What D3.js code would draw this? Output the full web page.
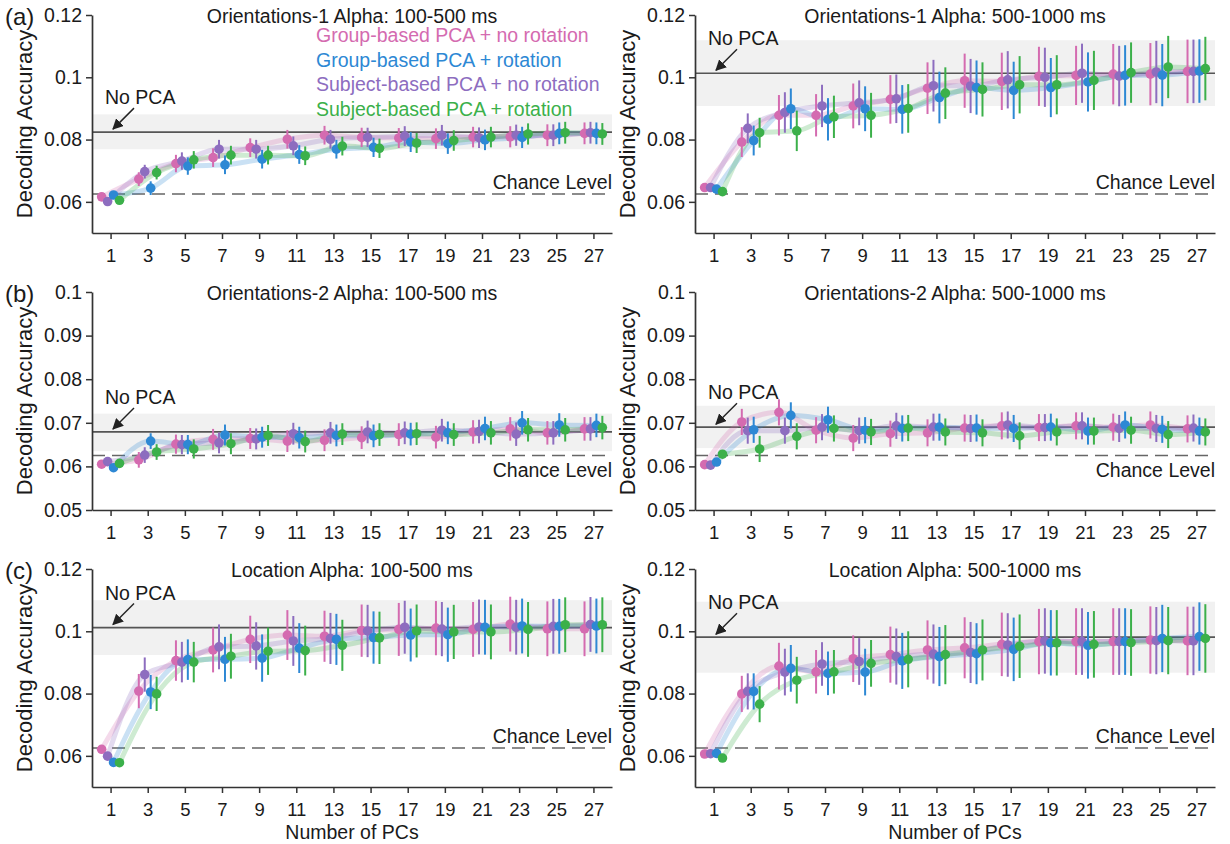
<!DOCTYPE html>
<html>
<head>
<meta charset="utf-8">
<script src="https://cdn.jsdelivr.net/npm/d3@7"></script>
<style>
  body { margin: 0; background: #fff; }
  svg { display: block; font-family: "Liberation Sans", Arial, sans-serif; }
</style>
</head>
<body>
<svg id="chart" width="1230" height="844"></svg>
<script>
// ---- data ----
const numPCs = [1, 3, 5, 7, 9, 11, 13, 15, 17, 19, 21, 23, 25, 27];

const seriesNames = [
  'Group-based PCA + no rotation',
  'Group-based PCA + rotation',
  'Subject-based PCA + no rotation',
  'Subject-based PCA + rotation',
];
const seriesColors = ['#d46bb0', '#2d88d4', '#8d6dbf', '#3bb04a'];

const panelTitles = [
  'Orientations-1 Alpha: 100-500 ms', 'Orientations-1 Alpha: 500-1000 ms',
  'Orientations-2 Alpha: 100-500 ms', 'Orientations-2 Alpha: 500-1000 ms',
  'Location Alpha: 100-500 ms', 'Location Alpha: 500-1000 ms',
];
const panelLetters = ['(a)', null, '(b)', null, '(c)', null];

const yTicksWide = [0.06, 0.08, 0.1, 0.12];
const yTicksNarrow = [0.05, 0.06, 0.07, 0.08, 0.09, 0.1];

const chanceLevel = 0.0625;
const noPcaMean = [0.0824, 0.1013, 0.0679, 0.0690, 0.1012, 0.0981];
const noPcaBandLo = [0.0769, 0.0908, 0.0635, 0.0642, 0.0924, 0.0867];
const noPcaBandHi = [0.0881, 0.1119, 0.0721, 0.0739, 0.1100, 0.1095];

// Orientations-1, 100-500 ms
const ori1EarlyGroupNoRot = [0.0616,0.0673,0.0723,0.0742,0.0774,0.0801,0.0814,0.0807,0.0805,0.0803,0.0808,0.0809,0.0814,0.0820];
const ori1EarlyGroupRot   = [0.0622,0.0644,0.0715,0.0719,0.0737,0.0752,0.0769,0.0775,0.0792,0.0787,0.0799,0.0807,0.0820,0.0820];
const ori1EarlySubjNoRot  = [0.0601,0.0697,0.0731,0.0769,0.0769,0.0780,0.0801,0.0807,0.0811,0.0814,0.0806,0.0814,0.0814,0.0822];
const ori1EarlySubjRot    = [0.0605,0.0694,0.0735,0.0750,0.0750,0.0748,0.0779,0.0772,0.0789,0.0797,0.0808,0.0818,0.0822,0.0818];
const ori1EarlyErr        = [0.0012,0.0022,0.0028,0.0030,0.0030,0.0030,0.0030,0.0031,0.0032,0.0033,0.0033,0.0034,0.0035,0.0035];

// Orientations-1, 500-1000 ms
const ori1LateGroupNoRot = [0.0646,0.0792,0.0878,0.0878,0.0908,0.0929,0.0965,0.0989,0.0987,0.1003,0.1006,0.1010,0.1010,0.1019];
const ori1LateGroupRot   = [0.0641,0.0797,0.0899,0.0865,0.0899,0.0897,0.0935,0.0967,0.0958,0.0967,0.0985,0.1006,0.1007,0.1020];
const ori1LateSubjNoRot  = [0.0646,0.0836,0.0887,0.0908,0.0918,0.0931,0.0973,0.0972,0.0992,0.1000,0.1013,0.1004,0.1017,0.1019];
const ori1LateSubjRot    = [0.0633,0.0822,0.0828,0.0873,0.0878,0.0900,0.0949,0.0961,0.0976,0.0976,0.0990,0.1015,0.1033,0.1028];
const ori1LateErr        = [0.0008,0.0048,0.0065,0.0068,0.0072,0.0078,0.0083,0.0087,0.0092,0.0095,0.0095,0.0097,0.0100,0.0102];

// Orientations-2, 100-500 ms
const ori2EarlyGroupNoRot = [0.0605,0.0615,0.0651,0.0662,0.0664,0.0658,0.0660,0.0666,0.0673,0.0667,0.0679,0.0686,0.0677,0.0686];
const ori2EarlyGroupRot   = [0.0597,0.0658,0.0650,0.0672,0.0667,0.0666,0.0671,0.0670,0.0674,0.0677,0.0687,0.0700,0.0695,0.0694];
const ori2EarlySubjNoRot  = [0.0611,0.0626,0.0650,0.0654,0.0663,0.0675,0.0677,0.0679,0.0677,0.0683,0.0680,0.0674,0.0677,0.0686];
const ori2EarlySubjRot    = [0.0607,0.0633,0.0640,0.0652,0.0671,0.0657,0.0674,0.0673,0.0675,0.0673,0.0677,0.0684,0.0684,0.0689];
const ori2EarlyErr        = [0.0009,0.0018,0.0022,0.0024,0.0024,0.0025,0.0025,0.0026,0.0026,0.0026,0.0027,0.0027,0.0027,0.0027];

// Orientations-2, 500-1000 ms
const ori2LateGroupNoRot = [0.0604,0.0702,0.0724,0.0683,0.0665,0.0675,0.0677,0.0688,0.0693,0.0689,0.0693,0.0690,0.0695,0.0686];
const ori2LateGroupRot   = [0.0610,0.0684,0.0717,0.0707,0.0683,0.0687,0.0690,0.0688,0.0687,0.0690,0.0681,0.0695,0.0685,0.0681];
const ori2LateSubjNoRot  = [0.0603,0.0682,0.0682,0.0690,0.0682,0.0693,0.0690,0.0687,0.0695,0.0689,0.0693,0.0687,0.0687,0.0688];
const ori2LateSubjRot    = [0.0628,0.0640,0.0669,0.0687,0.0679,0.0688,0.0679,0.0677,0.0670,0.0679,0.0681,0.0683,0.0673,0.0679];
const ori2LateErr        = [0.0008,0.0030,0.0030,0.0030,0.0030,0.0030,0.0031,0.0031,0.0031,0.0031,0.0031,0.0031,0.0031,0.0031];

// Location, 100-500 ms
const locEarlyGroupNoRot = [0.0621,0.0808,0.0906,0.0940,0.0974,0.0988,0.0984,0.1002,0.1006,0.1010,0.1006,0.1023,0.1008,0.1008];
const locEarlyGroupRot   = [0.0579,0.0805,0.0909,0.0910,0.0914,0.0946,0.0974,0.0980,0.0988,0.0989,0.1013,0.1017,0.1016,0.1017];
const locEarlySubjNoRot  = [0.0599,0.0861,0.0901,0.0950,0.0953,0.0969,0.0977,0.1001,0.1013,0.1007,0.1014,0.1013,0.1016,0.1022];
const locEarlySubjRot    = [0.0578,0.0799,0.0901,0.0920,0.0936,0.0938,0.0955,0.0979,0.1001,0.0998,0.0998,0.1006,0.1021,0.1021];
const locEarlyErr        = [0.0005,0.0055,0.0065,0.0072,0.0076,0.0080,0.0082,0.0084,0.0085,0.0087,0.0088,0.0088,0.0088,0.0088];

// Location, 500-1000 ms
const locLateGroupNoRot = [0.0606,0.0799,0.0888,0.0870,0.0912,0.0925,0.0940,0.0947,0.0958,0.0967,0.0967,0.0967,0.0972,0.0969];
const locLateGroupRot   = [0.0608,0.0807,0.0881,0.0865,0.0869,0.0905,0.0919,0.0928,0.0942,0.0963,0.0955,0.0967,0.0977,0.0983];
const locLateSubjNoRot  = [0.0607,0.0807,0.0869,0.0895,0.0903,0.0919,0.0927,0.0932,0.0956,0.0969,0.0967,0.0967,0.0970,0.0969];
const locLateSubjRot    = [0.0593,0.0766,0.0843,0.0870,0.0897,0.0910,0.0925,0.0940,0.0952,0.0963,0.0958,0.0964,0.0970,0.0977];
const locLateErr        = [0.0005,0.0058,0.0075,0.0070,0.0075,0.0090,0.0095,0.0098,0.0102,0.0105,0.0107,0.0107,0.0108,0.0110];

// series order per panel follows seriesNames: group/no rot, group/rot, subj/no rot, subj/rot
const panelSeries = [
  [ori1EarlyGroupNoRot, ori1EarlyGroupRot, ori1EarlySubjNoRot, ori1EarlySubjRot],
  [ori1LateGroupNoRot, ori1LateGroupRot, ori1LateSubjNoRot, ori1LateSubjRot],
  [ori2EarlyGroupNoRot, ori2EarlyGroupRot, ori2EarlySubjNoRot, ori2EarlySubjRot],
  [ori2LateGroupNoRot, ori2LateGroupRot, ori2LateSubjNoRot, ori2LateSubjRot],
  [locEarlyGroupNoRot, locEarlyGroupRot, locEarlySubjNoRot, locEarlySubjRot],
  [locLateGroupNoRot, locLateGroupRot, locLateSubjNoRot, locLateSubjRot],
];
const panelErr = [ori1EarlyErr, ori1LateErr, ori2EarlyErr, ori2LateErr, locEarlyErr, locLateErr];

// ---- layout ----
const colLeft = [92, 695];
const rowTop = [15, 292, 569];
const plotW = 520;
const plotH = 218;
// horizontal dodge (in PC units) of each series: pink, blue, purple, green
const dodge = [-0.48, 0.16, -0.16, 0.48];
const textColor = '#1a1a1a';

const svg = d3.select('#chart');

svg.append('defs').append('marker')
  .attr('id', 'arrow')
  .attr('viewBox', '0 0 10 10')
  .attr('refX', 9).attr('refY', 5)
  .attr('markerWidth', 11).attr('markerHeight', 11)
  .attr('markerUnits', 'userSpaceOnUse')
  .attr('orient', 'auto')
  .append('path')
  .attr('d', 'M0,0 L10,5 L0,10 z')
  .attr('fill', '#222');

function drawPanel(i) {
  const col = i % 2;
  const row = Math.floor(i / 2);
  const left = colLeft[col];
  const top = rowTop[row];
  const bottom = top + plotH;
  const right = left + plotW;
  const narrow = row === 1;

  const x = d3.scaleLinear().domain([0, 28]).range([left, right]);
  const y = d3.scaleLinear()
    .domain(narrow ? [0.05, 0.1] : [0.05, 0.12])
    .range([bottom, top]);

  const g = svg.append('g');

  // no-PCA band + line
  g.append('rect')
    .attr('x', left).attr('width', plotW)
    .attr('y', y(noPcaBandHi[i]))
    .attr('height', y(noPcaBandLo[i]) - y(noPcaBandHi[i]))
    .attr('fill', '#f1f1f1');

  g.append('line')
    .attr('x1', left).attr('x2', right)
    .attr('y1', y(noPcaMean[i])).attr('y2', y(noPcaMean[i]))
    .attr('stroke', '#555').attr('stroke-width', 1.7);

  g.append('line')
    .attr('x1', left).attr('x2', right)
    .attr('y1', y(chanceLevel)).attr('y2', y(chanceLevel))
    .attr('stroke', '#666').attr('stroke-width', 1.4)
    .attr('stroke-dasharray', '13,7');

  // connecting lines
  const line = d3.line()
    .x(d => x(d[0]))
    .y(d => y(d[1]))
    .curve(d3.curveMonotoneX);

  panelSeries[i].forEach((vals, s) => {
    const pts = numPCs.map((n, k) => [n + dodge[s], vals[k]]);
    g.append('path')
      .attr('d', line(pts))
      .attr('fill', 'none')
      .attr('stroke', seriesColors[s])
      .attr('stroke-opacity', 0.25)
      .attr('stroke-width', 5)
      .attr('stroke-linejoin', 'round');
  });

  // error bars and dots, drawn in left-to-right dodge order
  const drawOrder = [0, 2, 1, 3];
  numPCs.forEach((n, k) => {
    drawOrder.forEach(s => {
      const v = panelSeries[i][s][k];
      const e = panelErr[i][k];
      const cx = x(n + dodge[s]);
      g.append('line')
        .attr('x1', cx).attr('x2', cx)
        .attr('y1', y(v - e)).attr('y2', y(v + e))
        .attr('stroke', seriesColors[s])
        .attr('stroke-width', 2);
      g.append('circle')
        .attr('cx', cx).attr('cy', y(v))
        .attr('r', 4.8)
        .attr('fill', seriesColors[s]);
    });
  });

  // axes
  const xAxis = d3.axisBottom(x)
    .tickValues(numPCs)
    .tickSize(6)
    .tickPadding(10)
    .tickSizeOuter(0);
  const yAxis = d3.axisLeft(y)
    .tickValues(narrow ? yTicksNarrow : yTicksWide)
    .tickFormat(d3.format('~g'))
    .tickSize(6)
    .tickPadding(4)
    .tickSizeOuter(0);

  const gx = g.append('g')
    .attr('transform', `translate(0,${bottom})`)
    .call(xAxis);
  const gy = g.append('g')
    .attr('transform', `translate(${left},0)`)
    .call(yAxis);

  [gx, gy].forEach(a => {
    a.selectAll('path.domain').attr('stroke', '#333').attr('stroke-width', 1.7);
    a.selectAll('.tick line').attr('stroke', '#333').attr('stroke-width', 1.5);
    a.selectAll('.tick text')
      .attr('fill', textColor)
      .style('font-family', '"Liberation Sans", Arial, sans-serif');
  });
  gx.selectAll('.tick text').style('font-size', '18.5px');
  gy.selectAll('.tick text').style('font-size', '19.5px');

  // title
  g.append('text')
    .attr('x', (left + right) / 2)
    .attr('y', top + 8)
    .attr('text-anchor', 'middle')
    .attr('fill', textColor)
    .style('font-size', '19.5px')
    .text(panelTitles[i]);

  // y axis label
  g.append('text')
    .attr('transform', `translate(${left - 60},${(top + bottom) / 2}) rotate(-90)`)
    .attr('text-anchor', 'middle')
    .attr('fill', textColor)
    .style('font-size', '22px')
    .text('Decoding Accuracy');

  if (panelLetters[i]) {
    g.append('text')
      .attr('x', 5)
      .attr('y', top + 10)
      .attr('fill', textColor)
      .style('font-size', '24px')
      .text(panelLetters[i]);
  }

  // chance level label
  const chanceY = y(chanceLevel);
  g.append('text')
    .attr('x', right)
    .attr('y', narrow ? chanceY + 21 : chanceY - 5)
    .attr('text-anchor', 'end')
    .attr('fill', textColor)
    .style('font-size', '19.5px')
    .text('Chance Level');

  // no PCA label with arrow
  const npY = y(noPcaMean[i]);
  g.append('text')
    .attr('x', left + 13)
    .attr('y', npY - 28)
    .attr('fill', textColor)
    .style('font-size', '19.5px')
    .text('No PCA');
  g.append('line')
    .attr('x1', left + 42).attr('y1', npY - 24)
    .attr('x2', left + 21).attr('y2', npY - 3)
    .attr('stroke', '#222').attr('stroke-width', 1.5)
    .attr('marker-end', 'url(#arrow)');

  // x axis title on bottom row
  if (row === 2) {
    g.append('text')
      .attr('x', (left + right) / 2)
      .attr('y', bottom + 52)
      .attr('text-anchor', 'middle')
      .attr('fill', textColor)
      .style('font-size', '19.5px')
      .text('Number of PCs');
  }

  // legend in first panel
  if (i === 0) {
    const legend = g.append('g');
    seriesNames.forEach((name, s) => {
      legend.append('text')
        .attr('x', left + 224)
        .attr('y', top + 27 + s * 24.5)
        .attr('fill', seriesColors[s])
        .style('font-size', '19.5px')
        .text(name);
    });
  }
}

d3.range(6).forEach(drawPanel);
</script>
</body>
</html>
